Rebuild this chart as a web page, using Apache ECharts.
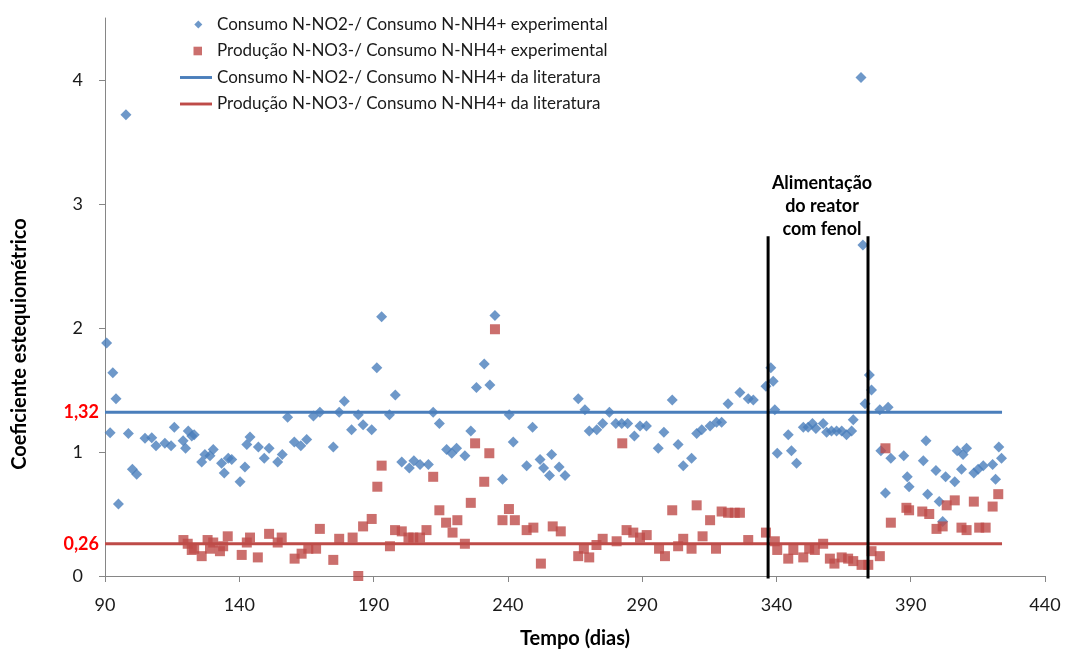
<!DOCTYPE html>
<html>
<head>
<meta charset="utf-8">
<script src="https://cdn.jsdelivr.net/npm/echarts@6/dist/echarts.min.js"></script>
<style>html,body{margin:0;padding:0;background:#fff}#c{width:1067px;height:649px}</style>
</head>
<body>
<div id="c"></div>
<script>
const seriesNames = [
  'Consumo N-NO2-/ Consumo N-NH4+ experimental',
  'Produção N-NO3-/ Consumo N-NH4+ experimental',
  'Consumo N-NO2-/ Consumo N-NH4+ da literatura',
  'Produção N-NO3-/ Consumo N-NH4+ da literatura'
];
const xTicks = [90, 140, 190, 240, 290, 340, 390, 440];
const yTicks = [0, 1, 2, 3, 4];
const refLabels = [0.26, 1.32];

const consumoNO2 = [
  [90.6,1.88],[91.9,1.155],[92.9,1.64],[94.1,1.43],[95,0.58],[97.8,3.72],[98.7,1.15],[100.2,0.86],[101.8,0.82],
  [104.9,1.11],[107.4,1.115],[109,1.05],[112.3,1.07],[114.6,1.05],[115.8,1.20],[119.1,1.09],[120,1.03],[121,1.17],
  [122.3,1.13],[123.2,1.14],[126,0.92],[127.2,0.98],[129.1,0.97],[130.3,1.02],[133.4,0.91],[134.4,0.83],[135.9,0.95],
  [137.2,0.94],[140.3,0.76],[142.1,0.88],[142.8,1.06],[144,1.12],[147.1,1.04],[149.3,0.95],[151.1,1.03],[154.3,0.92],
  [156,0.98],[158,1.28],[160.5,1.08],[162.9,1.05],[165.1,1.10],[167.6,1.29],[170,1.32],[175,1.04],[177.2,1.32],
  [179.1,1.41],[181.8,1.18],[184.3,1.30],[186.1,1.22],[189.3,1.18],[191.2,1.68],[193,2.09],[195.9,1.30],[198.1,1.46],
  [200.5,0.92],[203.3,0.87],[205,0.93],[207.3,0.90],[210.4,0.90],[212.2,1.32],[214.5,1.23],[217.2,1.02],[219.1,0.99],
  [220.9,1.03],[224,0.97],[226.2,1.17],[228.3,1.52],[231.2,1.71],[233.3,1.54],[235.2,2.10],[238,0.78],[240.5,1.30],
  [242,1.08],[247,0.89],[249.2,1.20],[252,0.94],[253.3,0.87],[255.5,0.81],[256.3,0.98],[259.1,0.88],[261.3,0.81],
  [266.2,1.43],[268.7,1.34],[270.3,1.17],[273.1,1.18],[275.3,1.23],[277.8,1.32],[280.2,1.23],[282.4,1.23],[284.6,1.23],
  [287.1,1.13],[289.2,1.21],[291.6,1.21],[296,1.03],[298.1,1.16],[301.2,1.42],[303.4,1.06],[305.3,0.89],[308.4,0.95],
  [310.3,1.15],[312.2,1.18],[315.3,1.21],[317.7,1.24],[319.6,1.24],[322,1.39],[326.4,1.48],[329.5,1.43],[331.4,1.42],
  [336.1,1.53],[337.9,1.68],[338.8,1.57],[339.4,1.34],[340.3,0.99],[344.4,1.14],[345.6,1.01],[347.5,0.91],[350,1.20],
  [351.8,1.20],[353.4,1.23],[354.7,1.19],[357.4,1.23],[358.7,1.16],[360.5,1.17],[362.4,1.17],[364.3,1.17],[366.1,1.14],
  [368,1.17],[368.6,1.26],[371.5,4.02],[372.2,2.67],[373,1.39],[374.6,1.62],[375.4,1.50],[378.5,1.34],[378.9,1.01],
  [380.6,0.67],[381.6,1.36],[382.6,0.95],[387.4,0.97],[388.7,0.80],[389.4,0.72],[394.7,0.93],[395.7,1.09],[396.3,0.66],
  [399.4,0.85],[400.6,0.60],[401.9,0.44],[403,0.80],[406.4,0.76],[407.3,1.01],[408.9,0.86],[409.5,0.98],[410.8,1.03],
  [413.5,0.83],[415.1,0.86],[417,0.89],[420.5,0.90],[421.6,0.78],[422.8,1.04],[423.8,0.95]
];

const producaoNO3 = [
  [119.2,0.29],[120.8,0.26],[122.3,0.21],[123.2,0.22],[126,0.16],[128.2,0.29],[129.1,0.22],[130.3,0.27],[132.8,0.20],
  [134,0.24],[135.7,0.32],[140.9,0.17],[142.8,0.27],[144,0.31],[146.9,0.15],[151.1,0.34],[154.3,0.27],[155.8,0.31],
  [160.6,0.14],[163.2,0.18],[165.7,0.22],[168.6,0.22],[170,0.38],[175,0.13],[177.2,0.30],[182.2,0.31],[184.3,0],
  [186.1,0.40],[189.3,0.46],[191.4,0.72],[193,0.89],[196.1,0.24],[198,0.37],[200.5,0.36],[203,0.31],[204.8,0.31],
  [207.3,0.31],[209.7,0.37],[212.2,0.80],[214.5,0.53],[217,0.43],[219.4,0.35],[221.2,0.45],[224,0.26],[226.2,0.59],
  [227.8,1.07],[231.2,0.76],[233.1,0.99],[235.2,1.99],[238,0.45],[240.4,0.54],[242.6,0.45],[247,0.37],[249.5,0.39],
  [252.3,0.10],[256.7,0.40],[259.7,0.36],[266.2,0.16],[268.3,0.22],[270.3,0.15],[273,0.25],[275.3,0.30],[280.5,0.28],
  [282.6,1.07],[284.2,0.37],[286.7,0.35],[289.2,0.31],[291.7,0.33],[296.3,0.22],[298.5,0.16],[301.2,0.53],[303.4,0.24],
  [305.3,0.30],[308.4,0.22],[310.3,0.57],[312.5,0.32],[315.3,0.45],[317.5,0.22],[319.6,0.52],[322,0.51],[324.5,0.51],
  [326.4,0.51],[329.5,0.29],[336.1,0.35],[339.4,0.28],[340.3,0.21],[344.4,0.14],[346.3,0.21],[350,0.15],[352.2,0.22],
  [354.3,0.21],[357.4,0.26],[359.9,0.14],[361.6,0.10],[364.3,0.15],[366.7,0.14],[368.6,0.12],[371.7,0.09],[374.2,0.09],
  [375.4,0.20],[378.5,0.16],[380.6,1.03],[382.6,0.43],[388.4,0.55],[389.4,0.53],[394.3,0.52],[396.9,0.50],[399.6,0.38],
  [401.9,0.40],[403.4,0.57],[406.4,0.61],[408.9,0.39],[410.8,0.37],[413.5,0.60],[415.5,0.39],[417.9,0.39],[420.5,0.56],
  [422.6,0.66]
];

const literaturaNO2 = [[90,1.32],[424,1.32]];
const literaturaNO3 = [[90,0.26],[424,0.26]];
const fenolStart = [[336.9,-0.02],[336.9,2.74]];
const fenolEnd = [[374.1,-0.02],[374.1,2.74]];
const annotationText = 'Alimentação\ndo reator\ncom fenol';
const xAxisTitle = 'Tempo (dias)';
const yAxisTitle = 'Coeficiente estequiométrico';

const FONT = 'Lato';
// legend icon shapes inside a 32x10 box (extra moveTo points fix the box)
const BOX = 'M0,0 M32,10 ';
const iconDiamond = 'path://' + BOX + 'M18.3,1 L22.3,5 L18.3,9 L14.3,5 Z';
const iconSquare = 'path://' + BOX + 'M13.5,0.7 L22,0.7 L22,9.3 L13.5,9.3 Z';
const iconLine = 'path://' + BOX + 'M0,3.5 L33,3.5 L33,6.5 L0,6.5 Z';

const chart = echarts.init(document.getElementById('c'), null, {renderer: 'canvas'});
chart.setOption({
  animation: false,
  backgroundColor: '#fff',
  textStyle: {fontFamily: FONT},
  grid: {left: 105, right: 22, top: 18, bottom: 73, containLabel: false, outerBoundsMode: 'none'},
  legend: {
    orient: 'vertical', left: 175, top: 11, itemGap: 9.5, itemWidth: 32, itemHeight: 10,
    textStyle: {fontFamily: FONT, fontSize: 17, color: '#1a1a1a'},
    data: [
      {name: seriesNames[0], icon: iconDiamond},
      {name: seriesNames[1], icon: iconSquare},
      {name: seriesNames[2], icon: iconLine},
      {name: seriesNames[3], icon: iconLine}
    ]
  },
  xAxis: {
    type: 'value', min: 90, max: 440, interval: 50,
    axisLine: {show: true, lineStyle: {color: '#868686', width: 1}},
    axisTick: {show: true, inside: false, length: 6, lineStyle: {color: '#868686'}},
    axisLabel: {fontFamily: FONT, fontSize: 18, color: '#1a1a1a', margin: 20,
      customValues: xTicks},
    splitLine: {show: false},
    name: xAxisTitle, nameLocation: 'middle', nameGap: 53,
    nameTextStyle: {fontFamily: FONT, fontSize: 20, fontWeight: 'bold', color: '#000'}
  },
  yAxis: [{
    type: 'value', min: 0, max: 4.5,
    axisLine: {show: true, lineStyle: {color: '#868686', width: 1}},
    axisTick: {show: true, inside: false, length: 6, lineStyle: {color: '#868686'}, customValues: yTicks},
    axisLabel: {fontFamily: FONT, fontSize: 18, color: '#1a1a1a', margin: 22, customValues: yTicks},
    splitLine: {show: false}
  }, {
    type: 'value', min: 0, max: 4.5, position: 'left',
    axisLine: {show: false}, axisTick: {show: false}, splitLine: {show: false},
    axisLabel: {fontFamily: FONT, fontSize: 18, fontWeight: 'bold', color: '#ff0000', margin: 6,
      customValues: refLabels, formatter: v => v.toFixed(2).replace('.', ',')}
  }],
  series: [
    {name: seriesNames[0], type: 'scatter', data: consumoNO2, symbol: 'diamond', symbolSize: 11,
      itemStyle: {color: '#4a7ebb'}},
    {name: seriesNames[1], type: 'scatter', data: producaoNO3, symbol: 'rect', symbolSize: 10,
      itemStyle: {color: '#be4b48'}},
    {name: seriesNames[2], type: 'line', data: literaturaNO2, symbol: 'none',
      lineStyle: {color: '#4a7ebb', width: 3}, itemStyle: {color: '#4a7ebb'}},
    {name: seriesNames[3], type: 'line', data: literaturaNO3, symbol: 'none',
      lineStyle: {color: '#be4b48', width: 3}, itemStyle: {color: '#be4b48'}},
    {name: 'fenol1', type: 'line', data: fenolStart, symbol: 'none', clip: false,
      lineStyle: {color: '#000', width: 3}, z: 5},
    {name: 'fenol2', type: 'line', data: fenolEnd, symbol: 'none', clip: false,
      lineStyle: {color: '#000', width: 3}, z: 5}
  ],
  graphic: [
    {type: 'text', x: 822, y: 206, z: 10,
      style: {text: annotationText, font: 'bold 18px ' + FONT, fill: '#000', align: 'center',
        verticalAlign: 'middle', lineHeight: 23}},
    {type: 'text', x: 20, y: 344, rotation: Math.PI / 2, z: 10,
      style: {text: yAxisTitle, font: 'bold 20px ' + FONT, fill: '#000', align: 'center', verticalAlign: 'middle'}}
  ]
});
</script>
</body>
</html>
